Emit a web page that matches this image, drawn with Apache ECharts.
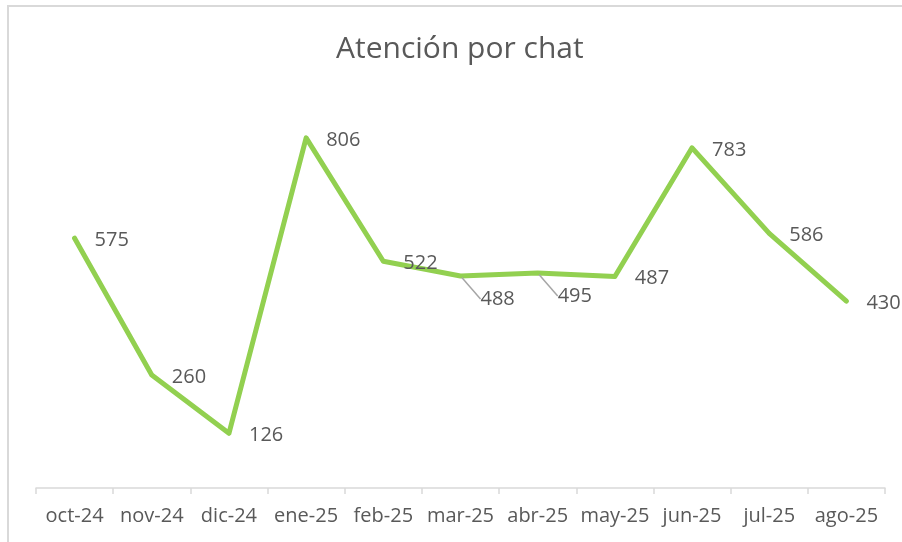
<!DOCTYPE html>
<html>
<head>
<meta charset="utf-8">
<script src="https://cdn.jsdelivr.net/npm/echarts@6/dist/echarts.min.js"></script>
<style>
  html, body { margin: 0; padding: 0; background: #fff; }
  #chart { width: 902px; height: 542px; }
</style>
</head>
<body>
<div id="chart"></div>
<script>
  // datos del gráfico
  const months = ['oct-24', 'nov-24', 'dic-24', 'ene-25', 'feb-25', 'mar-25', 'abr-25', 'may-25', 'jun-25', 'jul-25', 'ago-25']
  const chats = [575, 260, 126, 806, 522, 488, 495, 487, 783, 586, 430]
  // etiquetas desplazadas hacia abajo con línea guía
  const shiftedLabels = [5, 6]

  const textColor = '#595959'
  const font = "'Open Sans', 'Noto Sans', sans-serif"

  const seriesData = chats.map(function (v, i) {
    if (shiftedLabels.indexOf(i) >= 0) {
      return { value: v, labelLine: { show: true } }
    }
    return v
  })

  const mychart = echarts.init(document.getElementById('chart'))
  const option = {
    backgroundColor: '#fff',
    animation: false,
    title: {
      text: 'Atención por chat',
      left: 336,
      top: 34,
      padding: 0,
      textStyle: { color: textColor, fontFamily: font, fontSize: 30, fontWeight: 'normal' },
    },
    graphic: [
      {
        type: 'rect',
        shape: { x: 8, y: 6, width: 1000, height: 1000 },
        style: { fill: 'none', stroke: '#d9d9d9', lineWidth: 2 },
        silent: true,
      },
    ],
    grid: { left: 36, right: 17, top: 97, bottom: 54, containLabel: false },
    xAxis: {
      type: 'category',
      data: months,
      boundaryGap: true,
      axisLine: { lineStyle: { color: '#d9d9d9', width: 1.5 } },
      axisTick: { show: true, length: 6, lineStyle: { color: '#d9d9d9', width: 1.5 } },
      axisLabel: { color: textColor, fontFamily: font, fontSize: 20, margin: 18, interval: 0 },
      splitLine: { show: false },
    },
    yAxis: {
      type: 'value',
      min: 0,
      max: 900,
      show: false,
      splitLine: { show: false },
    },
    series: [
      {
        name: 'Atención por chat',
        type: 'line',
        data: seriesData,
        symbol: 'circle',
        symbolSize: 4,
        itemStyle: { color: '#92d050' },
        lineStyle: { color: '#92d050', width: 5, cap: 'round', join: 'round' },
        label: {
          show: true,
          position: 'right',
          distance: 18,
          color: textColor,
          fontFamily: font,
          fontSize: 20,
        },
        labelLine: {
          show: false,
          lineStyle: { color: '#a6a6a6', width: 1.5 },
        },
        labelLayout: function (params) {
          if (shiftedLabels.indexOf(params.dataIndex) >= 0) {
            return { dy: 23 }
          }
          return { dy: 2 }
        },
      },
    ],
  }
  mychart.setOption(option)
</script>
</body>
</html>
